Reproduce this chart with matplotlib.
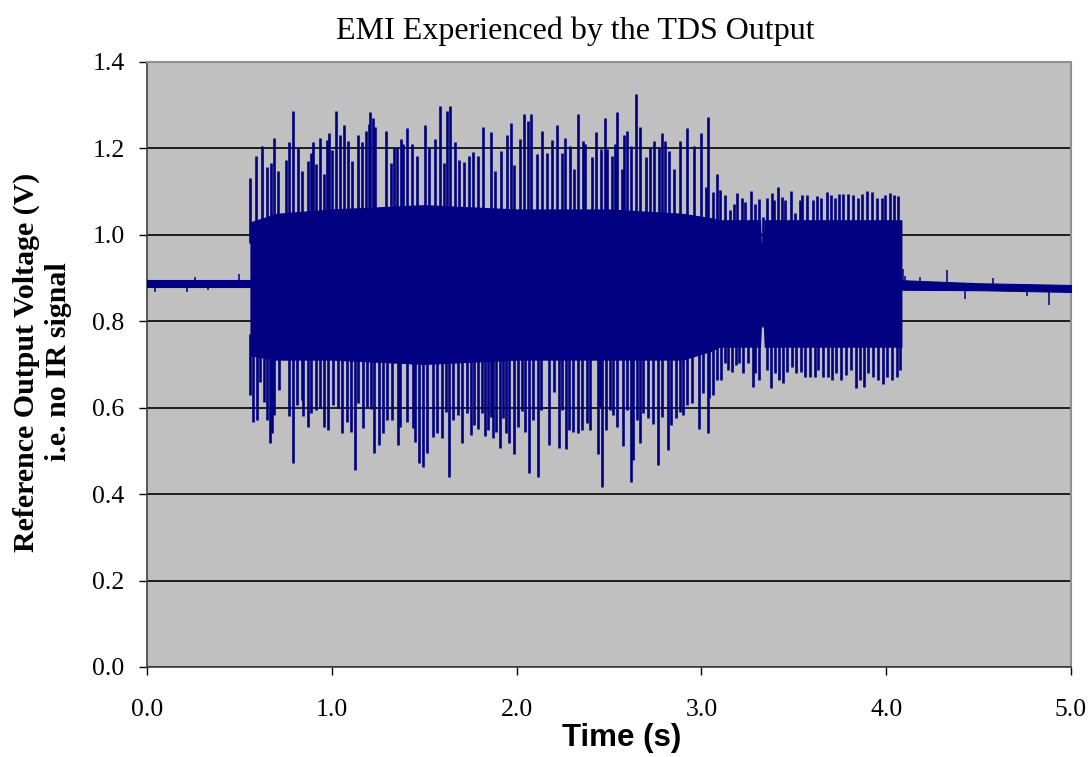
import numpy as np
import matplotlib.pyplot as plt

# --- data (time in s, voltage in V) ---
# quiet baseline before / after the interference burst
quiet_t = [0.0, 0.557, 4.085, 4.5, 5.0]
quiet_mid = [0.887, 0.887, 0.884, 0.880, 0.876]
quiet_half = [0.008, 0.008, 0.011, 0.008, 0.008]

# small glitches on the quiet baseline
glitch_t = [0.043, 0.216, 0.260, 0.330, 0.498, 4.090, 4.100, 4.183, 4.329, 4.426,
            4.578, 4.762, 4.881, 4.978]
glitch_v = [0.868, 0.868, 0.903, 0.873, 0.910, 0.921, 0.905, 0.903, 0.919, 0.852,
            0.899, 0.859, 0.838, 0.866]

# dense core of the burst (solid band)
core_t = [0.557, 0.70, 1.00, 1.50, 2.00, 2.50, 2.90, 3.05, 3.10, 3.32, 3.325, 3.335, 3.34, 4.085]
core_hi = [1.03, 1.05, 1.06, 1.07, 1.06, 1.06, 1.05, 1.04, 1.035, 1.035, 0.98, 0.98, 1.035, 1.035]
core_lo = [0.72, 0.71, 0.71, 0.70, 0.71, 0.71, 0.71, 0.73, 0.74, 0.74, 0.79, 0.79, 0.74, 0.74]

# upper spike tips
up_t = [0.557, 0.590, 0.622, 0.649, 0.671, 0.687, 0.709, 0.752, 0.768, 0.790, 0.817, 0.839,
        0.871, 0.887, 0.898, 0.914, 0.936, 0.958, 0.974, 0.985, 1.001, 1.023, 1.044, 1.066,
        1.088, 1.109, 1.142, 1.163, 1.185, 1.201, 1.207, 1.223, 1.234, 1.293, 1.320, 1.337,
        1.353, 1.374, 1.385, 1.407, 1.434, 1.461, 1.504, 1.526, 1.558, 1.586, 1.607, 1.623,
        1.640, 1.667, 1.688, 1.715, 1.742, 1.764, 1.791, 1.818, 1.861, 1.883, 1.916, 1.948,
        1.970, 1.986, 2.018, 2.040, 2.062, 2.078, 2.110, 2.137, 2.165, 2.192, 2.219, 2.246,
        2.262, 2.289, 2.311, 2.332, 2.359, 2.370, 2.408, 2.430, 2.457, 2.478, 2.489, 2.516,
        2.532, 2.543, 2.570, 2.581, 2.597, 2.619, 2.646, 2.668, 2.700, 2.722, 2.744, 2.771,
        2.787, 2.803, 2.825, 2.852, 2.884, 2.922, 2.960, 2.998, 3.025, 3.036, 3.063, 3.084,
        3.101, 3.128, 3.155, 3.177, 3.193, 3.220, 3.236, 3.268, 3.290, 3.312, 3.333, 3.355,
        3.382, 3.393, 3.415, 3.436, 3.452, 3.485, 3.506, 3.534, 3.544, 3.571, 3.604, 3.626,
        3.647, 3.680, 3.701, 3.723, 3.745, 3.766, 3.793, 3.820, 3.847, 3.869, 3.896, 3.923,
        3.950, 3.977, 3.994, 4.021, 4.042, 4.064]
up_v = [1.132, 1.183, 1.206, 1.157, 1.167, 1.225, 1.148, 1.174, 1.215, 1.287, 1.201, 1.148,
        1.171, 1.190, 1.215, 1.164, 1.225, 1.141, 1.220, 1.236, 1.197, 1.287, 1.231, 1.255,
        1.218, 1.171, 1.231, 1.215, 1.241, 1.257, 1.285, 1.271, 1.250, 1.241, 1.167, 1.201,
        1.201, 1.222, 1.211, 1.248, 1.211, 1.183, 1.255, 1.201, 1.222, 1.299, 1.167, 1.287,
        1.299, 1.215, 1.174, 1.169, 1.183, 1.192, 1.183, 1.250, 1.238, 1.148, 1.194, 1.231,
        1.259, 1.162, 1.222, 1.280, 1.264, 1.280, 1.188, 1.241, 1.190, 1.220, 1.255, 1.190,
        1.225, 1.206, 1.153, 1.280, 1.218, 1.211, 1.181, 1.238, 1.199, 1.271, 1.199, 1.183,
        1.211, 1.285, 1.153, 1.231, 1.241, 1.206, 1.326, 1.250, 1.181, 1.201, 1.218, 1.201,
        1.236, 1.218, 1.194, 1.153, 1.218, 1.248, 1.206, 1.236, 1.111, 1.273, 1.100, 1.141,
        1.104, 1.093, 1.058, 1.072, 1.097, 1.086, 1.076, 1.102, 1.072, 1.083, 1.042, 1.086,
        1.097, 1.081, 1.111, 1.088, 1.081, 1.102, 1.051, 1.081, 1.093, 1.093, 1.081, 1.090,
        1.086, 1.100, 1.093, 1.086, 1.095, 1.095, 1.095, 1.093, 1.086, 1.095, 1.102, 1.100,
        1.086, 1.086, 1.093, 1.097, 1.093, 1.090]

# lower spike tips
lo_t = [0.557, 0.574, 0.595, 0.611, 0.633, 0.649, 0.666, 0.676, 0.687, 0.714, 0.768, 0.790,
        0.812, 0.839, 0.844, 0.871, 0.887, 0.914, 0.936, 0.958, 0.979, 1.006, 1.034, 1.055,
        1.082, 1.104, 1.126, 1.142, 1.169, 1.190, 1.212, 1.228, 1.255, 1.277, 1.299, 1.326,
        1.358, 1.369, 1.407, 1.439, 1.450, 1.472, 1.494, 1.515, 1.548, 1.569, 1.596, 1.618,
        1.634, 1.656, 1.683, 1.705, 1.732, 1.753, 1.769, 1.791, 1.813, 1.829, 1.845, 1.861,
        1.872, 1.889, 1.910, 1.926, 1.943, 1.959, 1.986, 2.008, 2.029, 2.045, 2.067, 2.089,
        2.116, 2.132, 2.175, 2.202, 2.229, 2.246, 2.267, 2.284, 2.305, 2.332, 2.354, 2.381,
        2.397, 2.440, 2.451, 2.462, 2.484, 2.505, 2.522, 2.543, 2.576, 2.597, 2.619, 2.630,
        2.652, 2.668, 2.684, 2.711, 2.738, 2.765, 2.787, 2.819, 2.835, 2.863, 2.884, 2.900,
        2.922, 2.949, 2.987, 3.009, 3.036, 3.041, 3.063, 3.084, 3.106, 3.128, 3.144, 3.166,
        3.187, 3.203, 3.225, 3.252, 3.279, 3.290, 3.312, 3.333, 3.355, 3.377, 3.398, 3.420,
        3.442, 3.463, 3.490, 3.512, 3.539, 3.561, 3.588, 3.615, 3.631, 3.658, 3.685, 3.707,
        3.728, 3.755, 3.782, 3.810, 3.837, 3.858, 3.880, 3.902, 3.929, 3.956, 3.983, 4.004,
        4.031, 4.058, 4.075]
lo_v = [0.630, 0.567, 0.572, 0.660, 0.613, 0.572, 0.519, 0.542, 0.583, 0.641, 0.581, 0.472,
        0.606, 0.618, 0.581, 0.556, 0.588, 0.595, 0.600, 0.556, 0.549, 0.606, 0.600, 0.542,
        0.567, 0.544, 0.456, 0.611, 0.553, 0.602, 0.597, 0.495, 0.514, 0.542, 0.572, 0.572,
        0.514, 0.556, 0.567, 0.553, 0.521, 0.472, 0.463, 0.495, 0.532, 0.542, 0.530, 0.590,
        0.440, 0.572, 0.583, 0.519, 0.588, 0.537, 0.560, 0.551, 0.588, 0.535, 0.549, 0.579,
        0.530, 0.544, 0.507, 0.576, 0.542, 0.519, 0.493, 0.556, 0.593, 0.544, 0.449, 0.572,
        0.440, 0.595, 0.514, 0.637, 0.507, 0.595, 0.505, 0.549, 0.544, 0.542, 0.549, 0.565,
        0.549, 0.493, 0.602, 0.417, 0.549, 0.595, 0.583, 0.556, 0.512, 0.595, 0.428, 0.479,
        0.572, 0.519, 0.588, 0.576, 0.563, 0.468, 0.579, 0.502, 0.560, 0.576, 0.590, 0.583,
        0.606, 0.611, 0.551, 0.634, 0.542, 0.623, 0.630, 0.664, 0.664, 0.704, 0.688, 0.683,
        0.699, 0.704, 0.681, 0.704, 0.648, 0.681, 0.664, 0.787, 0.688, 0.646, 0.681, 0.664,
        0.657, 0.683, 0.694, 0.681, 0.683, 0.671, 0.671, 0.671, 0.688, 0.671, 0.671, 0.664,
        0.681, 0.664, 0.676, 0.688, 0.646, 0.664, 0.648, 0.681, 0.671, 0.664, 0.655, 0.671,
        0.664, 0.671, 0.688]

x_ticks = [0.0, 1.0, 2.0, 3.0, 4.0, 5.0]
y_ticks = [0.0, 0.2, 0.4, 0.6, 0.8, 1.0, 1.2, 1.4]

navy = '#000080'

fig = plt.figure(figsize=(10.91, 7.57), dpi=100)
ax = fig.add_axes([0.1347, 0.1189, 0.8470, 0.7992])
ax.set_facecolor('#C0C0C0')

# quiet baseline
qt = np.array(quiet_t)
qm = np.array(quiet_mid)
qh = np.array(quiet_half)
pre = qt <= 0.557
post = qt >= 4.085
ax.fill_between(qt[pre], qm[pre] - qh[pre], qm[pre] + qh[pre], color=navy, lw=0.8, zorder=3)
ax.fill_between(qt[post], qm[post] - qh[post], qm[post] + qh[post], color=navy, lw=0.8, zorder=3)
ax.vlines(glitch_t, np.interp(glitch_t, quiet_t, quiet_mid), glitch_v, color=navy, lw=1.1, zorder=3)

# burst: solid core plus spikes
ax.fill_between(core_t, core_lo, core_hi, color=navy, lw=0, zorder=3)
ax.vlines(up_t, np.interp(up_t, core_t, core_hi) - 0.05, up_v, color=navy, lw=1.9, zorder=3)
ax.vlines(lo_t, np.interp(lo_t, core_t, core_lo) + 0.05, lo_v, color=navy, lw=1.9, zorder=3)

ax.set_xlim(0, 5)
ax.set_ylim(0, 1.4)
ax.set_xticks(x_ticks)
ax.set_yticks(y_ticks)
ax.set_xticklabels([f'{v:.1f}' for v in x_ticks], family='Liberation Serif', fontsize=18.5)
ax.set_yticklabels([f'{v:.1f}' for v in y_ticks], family='Liberation Serif', fontsize=18.5)
ax.tick_params(direction='out', length=6, width=1, colors='black')
ax.tick_params(axis='x', pad=17)
ax.tick_params(axis='y', pad=10)
ax.yaxis.grid(True, color='black', lw=1.2)
ax.set_axisbelow(True)

for s in ['left', 'bottom']:
    ax.spines[s].set_color('#404040')
    ax.spines[s].set_linewidth(1.2)
for s in ['top', 'right']:
    ax.spines[s].set_color('#909090')
    ax.spines[s].set_linewidth(1.5)

fig.text(575 / 1091, 1 - 31 / 757, 'EMI Experienced by the TDS Output',
         family='Liberation Serif', fontsize=23, ha='center', va='center')
ax.set_xlabel('Time (s)', family='Liberation Sans', fontweight='bold', fontsize=22.5)
ax.xaxis.set_label_coords(0.514, -0.093)
ax.set_ylabel('Reference Output Voltage (V)\ni.e. no IR signal', family='Liberation Serif',
              fontweight='bold', fontsize=21.5, linespacing=1.25)
ax.yaxis.set_label_coords(-0.081, 0.504)

fig.savefig('out.png', dpi=100)
